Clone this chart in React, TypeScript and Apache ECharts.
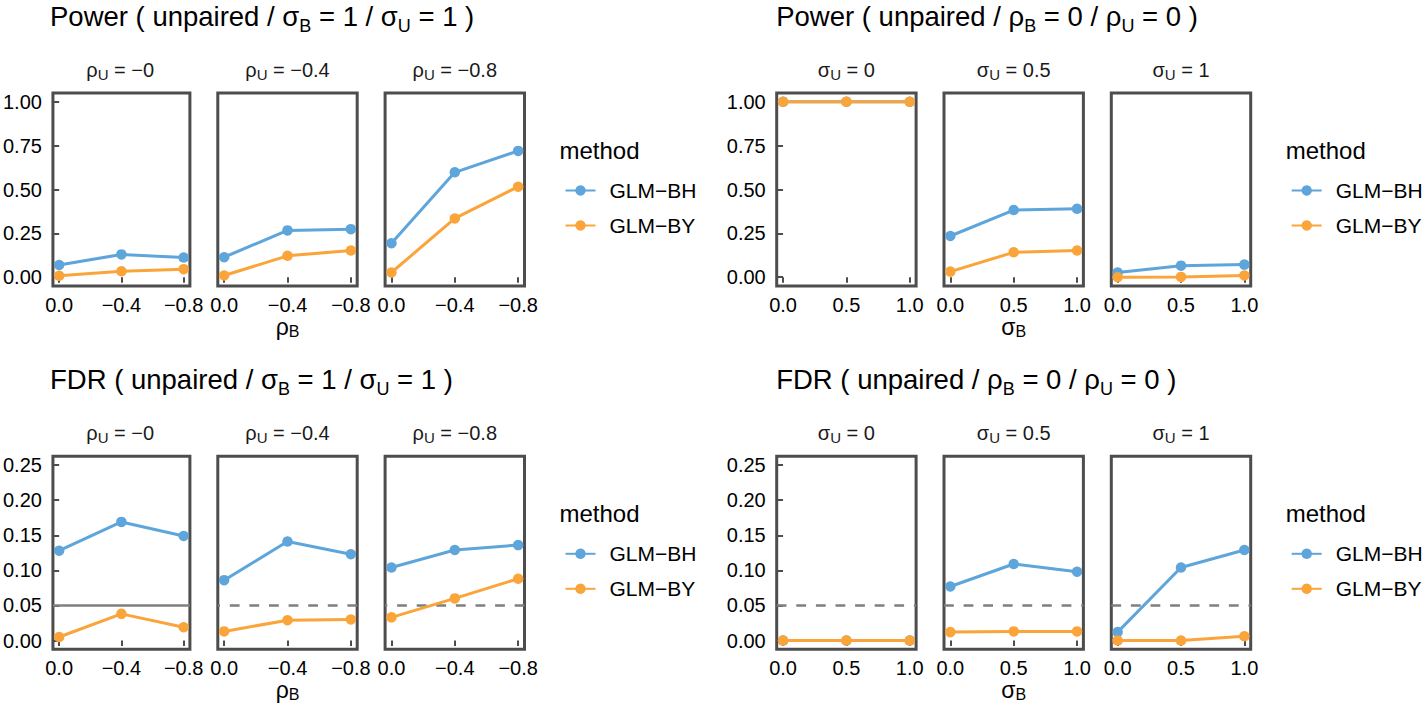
import React, { useEffect, useRef } from "react";
import * as echarts from "echarts";

const FONT = "'Liberation Sans', Arial, Helvetica, sans-serif";
const BLUE = "#5DA5DA";
const ORANGE = "#FAA43A";
const BORDER = "#4D4D4D";

// ---------------- data ----------------
const methods = ["GLM-BH", "GLM-BY"];
const rhoB = [0, -0.4, -0.8];
const sigmaB = [0, 0.5, 1];
const rhoUFacets = ["−0", "−0.4", "−0.8"];
const sigmaUFacets = ["0", "0.5", "1"];
const powerTicks = [0, 0.25, 0.5, 0.75, 1];
const fdrTicks = [0, 0.05, 0.1, 0.15, 0.2, 0.25];
const fdrLevel = 0.05;

// Power ( unpaired / σB = 1 / σU = 1 ), rows = facets ρU = −0, −0.4, −0.8 ; cols = ρB 0, −0.4, −0.8
const powerRhoBH = [
  [0.07, 0.13, 0.112],
  [0.114, 0.267, 0.274],
  [0.194, 0.598, 0.72],
];
const powerRhoBY = [
  [0.008, 0.034, 0.046],
  [0.01, 0.122, 0.152],
  [0.027, 0.335, 0.516],
];
// Power ( unpaired / ρB = 0 / ρU = 0 ), rows = facets σU = 0, 0.5, 1 ; cols = σB 0, 0.5, 1
const powerSigmaBH = [
  [1, 1, 1],
  [0.235, 0.383, 0.39],
  [0.027, 0.066, 0.072],
];
const powerSigmaBY = [
  [1, 1, 1],
  [0.032, 0.142, 0.152],
  [0, 0.002, 0.01],
];
// FDR ( unpaired / σB = 1 / σU = 1 )
const fdrRhoBH = [
  [0.128, 0.169, 0.149],
  [0.086, 0.141, 0.123],
  [0.104, 0.129, 0.136],
];
const fdrRhoBY = [
  [0.005, 0.038, 0.019],
  [0.013, 0.029, 0.03],
  [0.033, 0.06, 0.088],
];
// FDR ( unpaired / ρB = 0 / ρU = 0 )
const fdrSigmaBH = [
  [0, 0, 0],
  [0.077, 0.109, 0.098],
  [0.012, 0.104, 0.129],
];
const fdrSigmaBY = [
  [0, 0, 0],
  [0.012, 0.013, 0.013],
  [0, 0, 0.006],
];

// ---------------- layout ----------------
const FACET_W = 139.4;
const FACET_H = 193;
const LEFT_COLS = [50.5, 217.8, 385.1];
const RIGHT_COLS = [776.7, 944, 1111.3];
const TOP_ROW = 93;
const BOTTOM_ROW = 456.3;

type Panel = {
  title: string;
  xs: number[];
  xVar: "rho" | "sigma";
  bh: number[][];
  by: number[][];
  strips: string[];
  yTicks: number[];
  yMin: number;
  yMax: number;
  fdr: boolean;
  cols: number[];
  top: number;
};

const panels: Panel[] = [
  {
    title: "{t|Power ( unpaired / σ}{s|B}{t| = 1 / σ}{s|U}{t| = 1 )}",
    xs: rhoB, xVar: "rho", bh: powerRhoBH, by: powerRhoBY, strips: rhoUFacets,
    yTicks: powerTicks, yMin: -0.05, yMax: 1.05, fdr: false, cols: LEFT_COLS, top: TOP_ROW,
  },
  {
    title: "{t|Power ( unpaired / ρ}{s|B}{t| = 0 / ρ}{s|U}{t| = 0 )}",
    xs: sigmaB, xVar: "sigma", bh: powerSigmaBH, by: powerSigmaBY, strips: sigmaUFacets,
    yTicks: powerTicks, yMin: -0.05, yMax: 1.05, fdr: false, cols: RIGHT_COLS, top: TOP_ROW,
  },
  {
    title: "{t|FDR ( unpaired / σ}{s|B}{t| = 1 / σ}{s|U}{t| = 1 )}",
    xs: rhoB, xVar: "rho", bh: fdrRhoBH, by: fdrRhoBY, strips: rhoUFacets,
    yTicks: fdrTicks, yMin: -0.0125, yMax: 0.2625, fdr: true, cols: LEFT_COLS, top: BOTTOM_ROW,
  },
  {
    title: "{t|FDR ( unpaired / ρ}{s|B}{t| = 0 / ρ}{s|U}{t| = 0 )}",
    xs: sigmaB, xVar: "sigma", bh: fdrSigmaBH, by: fdrSigmaBY, strips: sigmaUFacets,
    yTicks: fdrTicks, yMin: -0.0125, yMax: 0.2625, fdr: true, cols: RIGHT_COLS, top: BOTTOM_ROW,
  },
];

function rich(size: number, subSize: number, drop: number, color = "#000") {
  return {
    t: { fontFamily: FONT, fontSize: size, color, fontWeight: "normal" },
    s: { fontFamily: FONT, fontSize: subSize, color, fontWeight: "normal", padding: [drop, 0, 0, 0] },
  };
}

function buildOption() {
  const grid: any[] = [];
  const xAxis: any[] = [];
  const yAxis: any[] = [];
  const series: any[] = [];
  const title: any[] = [];
  const legend: any[] = [];

  panels.forEach((p) => {
    title.push({
      text: p.title,
      left: p.cols[0] - 0.5,
      top: p.top - 76.5,
      padding: 0,
      textAlign: "left",
      textVerticalAlign: "middle",
      textStyle: { fontWeight: "normal", rich: rich(27.5, 18, 19) },
    });
    // x axis title
    const midX = p.cols[1] + FACET_W / 2;
    title.push({
      text: "{t|" + (p.xVar === "rho" ? "ρ" : "σ") + "}{s|B}",
      left: midX,
      top: p.top + FACET_H + 41,
      padding: 0,
      textAlign: "center",
      textVerticalAlign: "middle",
      textStyle: { fontWeight: "normal", rich: rich(23, 16, 9) },
    });
    // legend title
    const legLeft = p.cols[2] + FACET_W + 35;
    title.push({
      text: "method",
      left: legLeft,
      top: p.top + 57,
      padding: 0,
      textAlign: "left",
      textVerticalAlign: "middle",
      textStyle: { fontFamily: FONT, fontSize: 24, color: "#000", fontWeight: "normal" },
    });
    legend.push({
      data: methods,
      orient: "vertical",
      left: legLeft,
      top: p.top + 82,
      itemWidth: 30,
      itemHeight: 13,
      itemGap: 14,
      selectedMode: false,
      formatter: (n: string) => n.replace("-", "−"),
      textStyle: { fontFamily: FONT, fontSize: 21, color: "#000", lineHeight: 21, padding: [0, 0, 0, 9] },
    });

    p.cols.forEach((left, f) => {
      const idx = grid.length;
      grid.push({
        left,
        top: p.top,
        width: FACET_W,
        height: FACET_H,
        show: true,
        borderColor: BORDER,
        borderWidth: 3,
        backgroundColor: "transparent",
        containLabel: false,
      });
      // strip label
      const prefix = p.xVar === "rho" ? "ρ" : "σ";
      title.push({
        text: "{t|" + prefix + "}{s|U}{t| = " + p.strips[f] + "}",
        left: left + FACET_W / 2,
        top: p.top - 23,
        padding: 0,
        textAlign: "center",
        textVerticalAlign: "middle",
        textStyle: { fontWeight: "normal", rich: rich(20, 15, 8, "#1A1A1A") },
      });
      const isRho = p.xVar === "rho";
      xAxis.push({
        type: "value",
        gridIndex: idx,
        inverse: isRho,
        min: isRho ? -0.84 : -0.05,
        max: isRho ? 0.04 : 1.05,
        axisLine: { show: false },
        splitLine: { show: false },
        axisTick: {
          show: true,
          length: 5.5,
          lineStyle: { color: BORDER, width: 2 },
          customValues: p.xs,
        },
        axisLabel: {
          show: true,
          customValues: p.xs,
          margin: 9,
          fontFamily: FONT,
          fontSize: 20,
          color: "#000",
          formatter: (v: number) =>
            isRho ? (v === 0 ? "0.0" : "−" + Math.abs(v).toFixed(1)) : v.toFixed(1),
        },
      });
      yAxis.push({
        type: "value",
        gridIndex: idx,
        min: p.yMin,
        max: p.yMax,
        axisLine: { show: false },
        splitLine: { show: false },
        axisTick: {
          show: f === 0,
          length: 5.5,
          lineStyle: { color: BORDER, width: 2 },
          customValues: p.yTicks,
        },
        axisLabel: {
          show: f === 0,
          customValues: p.yTicks,
          margin: 11,
          fontFamily: FONT,
          fontSize: 20,
          color: "#000",
          formatter: (v: number) => v.toFixed(2),
        },
      });
      [p.bh, p.by].forEach((vals, m) => {
        const s: any = {
          type: "line",
          name: methods[m],
          xAxisIndex: idx,
          yAxisIndex: idx,
          data: p.xs.map((x, i) => [x, vals[f][i]]),
          symbol: "circle",
          symbolSize: 10.5,
          showSymbol: true,
          lineStyle: { width: 3, color: m === 0 ? BLUE : ORANGE },
          itemStyle: { color: m === 0 ? BLUE : ORANGE },
          z: 3 + m,
          clip: false,
        };
        if (p.fdr && m === 0) {
          s.markLine = {
            silent: true,
            symbol: "none",
            label: { show: false },
            z: 2,
            lineStyle: {
              color: "#7F7F7F",
              width: 2.5,
              type: p.xVar === "rho" && f === 0 ? "solid" : [9.8, 9.8],
            },
            data: [{ yAxis: fdrLevel }],
          };
        }
        series.push(s);
      });
    });
  });

  return {
    animation: false,
    backgroundColor: "#FFFFFF",
    textStyle: { fontFamily: FONT },
    title,
    legend,
    grid,
    xAxis,
    yAxis,
    series,
  };
}

export default function App() {
  const ref = useRef<HTMLDivElement>(null);
  useEffect(() => {
    if (!ref.current) return;
    const chart = echarts.init(ref.current, undefined, { renderer: "svg" });
    chart.setOption(buildOption() as any);
    return () => chart.dispose();
  }, []);
  return (
    <div
      ref={ref}
      style={{ position: "absolute", left: 0, top: 0, width: 1424, height: 704, background: "#fff" }}
    />
  );
}
